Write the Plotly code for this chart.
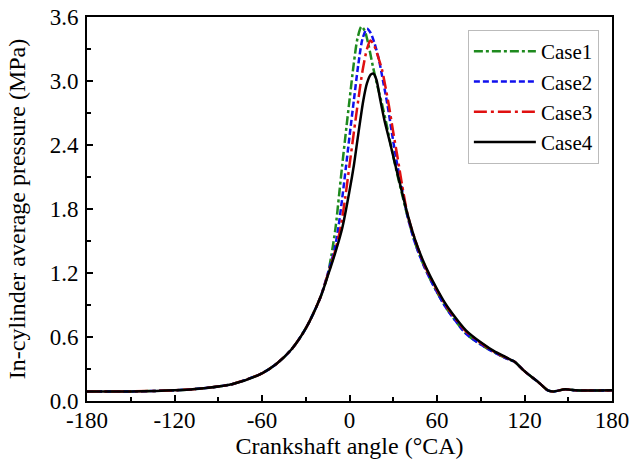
import plotly.graph_objects as go

# ---------------- data ----------------
common_left_angle = [-180, -150, -120, -100, -80, -60, -50, -40, -30, -20]
common_left_p = [0.09, 0.09, 0.10, 0.12, 0.16, 0.26, 0.35, 0.48, 0.68, 0.97]

common_right_angle = [120, 130, 136, 140, 148, 155, 180]
common_right_p = [0.28, 0.17, 0.10, 0.09, 0.11, 0.10, 0.10]

case1_angle = [-15, -12.5, -9.6, -7, -5, -2, 0, 3, 5.5, 8.2, 10.5, 13, 16, 19, 22, 25, 28, 32,
               36, 40, 45, 50, 55, 60, 65, 70, 80, 90, 100, 106, 110, 113]
case1_p = [1.18, 1.36, 1.62, 1.95, 2.21, 2.58, 2.82, 3.17, 3.40, 3.51, 3.47, 3.34, 3.14, 2.96,
           2.80, 2.62, 2.42, 2.17, 1.94, 1.72, 1.48, 1.30, 1.15, 1.02, 0.90, 0.80, 0.63, 0.53,
           0.45, 0.41, 0.385, 0.37]

case2_angle = [-15, -12, -10, -7.7, -5, -2.3, 0, 3, 6, 9, 12, 14.5, 17, 20, 23, 26, 29, 32,
               36, 40, 45, 50, 55, 60, 65, 70, 80, 90, 100, 106, 110, 113]
case2_p = [1.19, 1.33, 1.44, 1.62, 1.90, 2.21, 2.48, 2.82, 3.15, 3.40, 3.49, 3.45, 3.36, 3.21,
           3.00, 2.78, 2.52, 2.27, 1.99, 1.72, 1.48, 1.30, 1.15, 1.02, 0.90, 0.80, 0.63, 0.53,
           0.45, 0.41, 0.385, 0.37]

case3_angle = [-15, -10, -6.2, -3, 0, 3, 6, 9, 12, 14.4, 17, 20, 22.4, 25, 27, 30, 33, 36,
               40, 45, 50, 55, 60, 65, 70, 80, 90, 100, 106, 110, 113]
case3_p = [1.18, 1.40, 1.62, 1.90, 2.21, 2.52, 2.82, 3.10, 3.30, 3.38, 3.33, 3.21, 3.10, 2.92,
           2.77, 2.52, 2.28, 2.03, 1.74, 1.51, 1.32, 1.17, 1.04, 0.92, 0.82, 0.65, 0.545,
           0.455, 0.415, 0.39, 0.37]

case4_angle = [-15, -10, -5, 0, 3, 6, 9.5, 12, 14.5, 16.5, 18.5, 21, 24, 28, 32, 36, 40, 45,
               50, 55, 60, 65, 70, 80, 90, 100, 106, 110, 113]
case4_p = [1.17, 1.38, 1.62, 1.97, 2.21, 2.50, 2.82, 2.98, 3.06, 3.07, 3.01, 2.83, 2.63, 2.41,
           2.18, 1.96, 1.74, 1.51, 1.33, 1.18, 1.05, 0.93, 0.83, 0.66, 0.55, 0.46, 0.42,
           0.39, 0.37]

case_names = ["Case1", "Case2", "Case3", "Case4"]
case_angles = [case1_angle, case2_angle, case3_angle, case4_angle]
case_values = [case1_p, case2_p, case3_p, case4_p]
case_colors = ["#1e8a1e", "#1010ee", "#e01010", "#000000"]
case_dashes = ["9px,3px,3px,3px", "6px,3px", "13px,4px,3px,4px", "solid"]

x_ticks = [-180, -120, -60, 0, 60, 120, 180]
y_ticks = [0.0, 0.6, 1.2, 1.8, 2.4, 3.0, 3.6]

FONT = "Liberation Serif, Times New Roman, serif"

fig = go.Figure()
for name, ang, val, col, dash in zip(case_names, case_angles, case_values, case_colors, case_dashes):
    fig.add_trace(go.Scatter(
        x=common_left_angle + ang + common_right_angle,
        y=common_left_p + val + common_right_p,
        mode="lines",
        name=name,
        line=dict(color=col, width=2.5, dash=dash, shape="spline", smoothing=0.8),
    ))

axis_common = dict(
    showline=True, linecolor="black", linewidth=2, mirror=True,
    ticks="inside", ticklen=6, tickwidth=2, tickcolor="black",
    showgrid=False, zeroline=False, automargin=False,
    tickfont=dict(family=FONT, size=23, color="black"),
)

fig.update_xaxes(
    range=[-180, 180], tickvals=x_ticks, ticktext=[str(v) for v in x_ticks],
    minor=dict(dtick=30, ticks="inside", ticklen=4, tickwidth=2, tickcolor="black"),
    ticklabelstandoff=-3,
    title=dict(text="Crankshaft angle (°CA)", font=dict(family=FONT, size=24, color="black"), standoff=2),
    **axis_common,
)
fig.update_yaxes(
    range=[0, 3.6], tickvals=y_ticks, ticktext=[f"{v:.1f}" for v in y_ticks],
    minor=dict(dtick=0.3, ticks="inside", ticklen=4, tickwidth=2, tickcolor="black"),
    ticklabelstandoff=2,
    title=dict(text="In-cylinder average pressure (MPa)", font=dict(family=FONT, size=24, color="black"), standoff=17),
    **axis_common,
)

fig.update_layout(
    width=632, height=460,
    margin=dict(l=87, r=20, t=17, b=59),
    paper_bgcolor="white", plot_bgcolor="white",
    showlegend=True,
    legend=dict(
        x=0.975, y=0.966, xanchor="right", yanchor="top",
        bgcolor="white", bordercolor="#bbbbbb", borderwidth=1,
        font=dict(family=FONT, size=21, color="black"),
        itemwidth=62, tracegroupgap=0,
    ),
)

fig.write_html("out.html", config={"displayModeBar": False},
               post_script="document.body.style.margin='0';")
